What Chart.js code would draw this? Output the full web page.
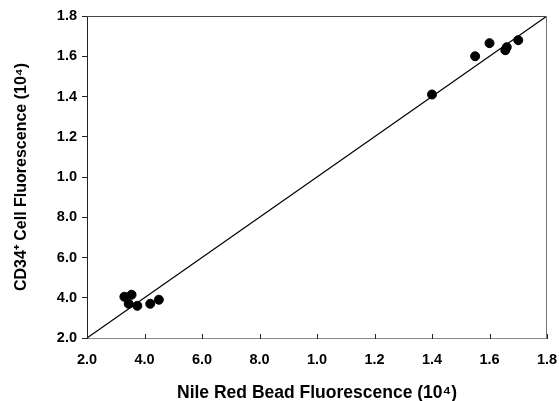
<!DOCTYPE html>
<html>
<head>
<meta charset="utf-8">
<script src="https://cdn.jsdelivr.net/npm/chart.js@4.4.0/dist/chart.umd.min.js"></script>
<style>
  html, body { margin: 0; padding: 0; background: #fff; }
  #wrap { width: 559px; height: 401px; }
</style>
</head>
<body>
<div id="wrap"><canvas id="chart" width="559" height="401"></canvas></div>
<script>
// Values in units of 10^3 (axis labels show them the way the figure does)
const beadX = [3.3, 3.55, 3.45, 3.75, 4.2, 4.5, 14.0, 15.5, 16.0, 16.55, 16.6, 17.0];
const cellY = [4.05, 4.15, 3.7, 3.6, 3.7, 3.9, 14.1, 16.0, 16.65, 16.3, 16.45, 16.8];
// identity line y = x
const fitX = [2, 18];
const fitY = [2, 18];
const tickValues = [2, 4, 6, 8, 10, 12, 14, 16, 18];
const tickLabels = ['2.0', '4.0', '6.0', '8.0', '1.0', '1.2', '1.4', '1.6', '1.8'];

const FONT = '"Liberation Sans", Arial, Helvetica, sans-serif';

function labelFor(v) {
    const i = tickValues.indexOf(v);
    return i >= 0 ? tickLabels[i] : '';
}

// frame on top/right, plus small inward ticks on the x axis
const framePlugin = {
    id: 'frame',
    afterDraw(chart) {
        const { ctx, chartArea: a, scales } = chart;
        ctx.save();
        ctx.lineWidth = 1;
        ctx.strokeStyle = '#444';
        ctx.beginPath();
        ctx.moveTo(a.left, a.top + 0.5);
        ctx.lineTo(a.right, a.top + 0.5);
        ctx.stroke();
        ctx.strokeStyle = '#777';
        ctx.beginPath();
        ctx.moveTo(a.right - 0.5, a.top);
        ctx.lineTo(a.right - 0.5, a.bottom);
        ctx.stroke();
        ctx.strokeStyle = '#222';
        tickValues.forEach(v => {
            const px = Math.round(scales.x.getPixelForValue(v)) + 0.5;
            ctx.beginPath();
            ctx.moveTo(px, a.bottom - 4);
            ctx.lineTo(px, a.bottom + 1);
            ctx.stroke();
        });
        ctx.restore();
    }
};

const ctx = document.getElementById('chart');
new Chart(ctx, {
    data: {
        datasets: [
            {
                type: 'line',
                data: fitX.map((x, i) => ({ x: x, y: fitY[i] })),
                borderColor: '#000',
                borderWidth: 1.2,
                pointRadius: 0,
                fill: false,
                tension: 0
            },
            {
                type: 'scatter',
                data: beadX.map((x, i) => ({ x: x, y: cellY[i] })),
                backgroundColor: '#000',
                borderColor: '#000',
                pointRadius: 4.5,
                pointHoverRadius: 4.5
            }
        ]
    },
    options: {
        responsive: false,
        animation: false,
        layout: { padding: { left: 8, right: 12, top: 16, bottom: 0 } },
        plugins: {
            legend: { display: false },
            tooltip: { enabled: false }
        },
        scales: {
            x: {
                type: 'linear',
                min: 2,
                max: 18,
                afterBuildTicks: s => { s.ticks = tickValues.map(v => ({ value: v })); },
                afterFit: s => { s.height = 63; s.paddingRight = 0; s.paddingLeft = 0; },
                grid: { display: false, drawTicks: false },
                border: { display: true, color: '#888', width: 1 },
                ticks: {
                    callback: v => labelFor(v),
                    color: '#000',
                    padding: 13,
                    maxRotation: 0,
                    font: { family: FONT, size: 14.5, weight: 'bold' }
                },
                title: {
                    display: true,
                    text: 'Nile Red Bead Fluorescence (10\u2074)',
                    color: '#000',
                    padding: { top: 0, bottom: -3 },
                    font: { family: FONT, size: 17.5, weight: 'bold' }
                }
            },
            y: {
                type: 'linear',
                min: 2,
                max: 18,
                afterBuildTicks: s => { s.ticks = tickValues.map(v => ({ value: v })); },
                afterFit: s => { s.width = 79; s.paddingTop = 0; s.paddingBottom = 0; },
                grid: { drawOnChartArea: false, drawTicks: true, tickLength: 5, color: '#222' },
                border: { display: true, color: '#222', width: 1 },
                ticks: {
                    callback: v => labelFor(v),
                    color: '#000',
                    padding: 5,
                    font: { family: FONT, size: 14.5, weight: 'bold' }
                },
                title: {
                    display: true,
                    text: 'CD34\u207A Cell Fluorescence (10\u2074)',
                    color: '#000',
                    padding: { top: 4, bottom: 4 },
                    font: { family: FONT, size: 16, weight: 'bold' }
                }
            }
        }
    },
    plugins: [framePlugin]
});
</script>
</body>
</html>
